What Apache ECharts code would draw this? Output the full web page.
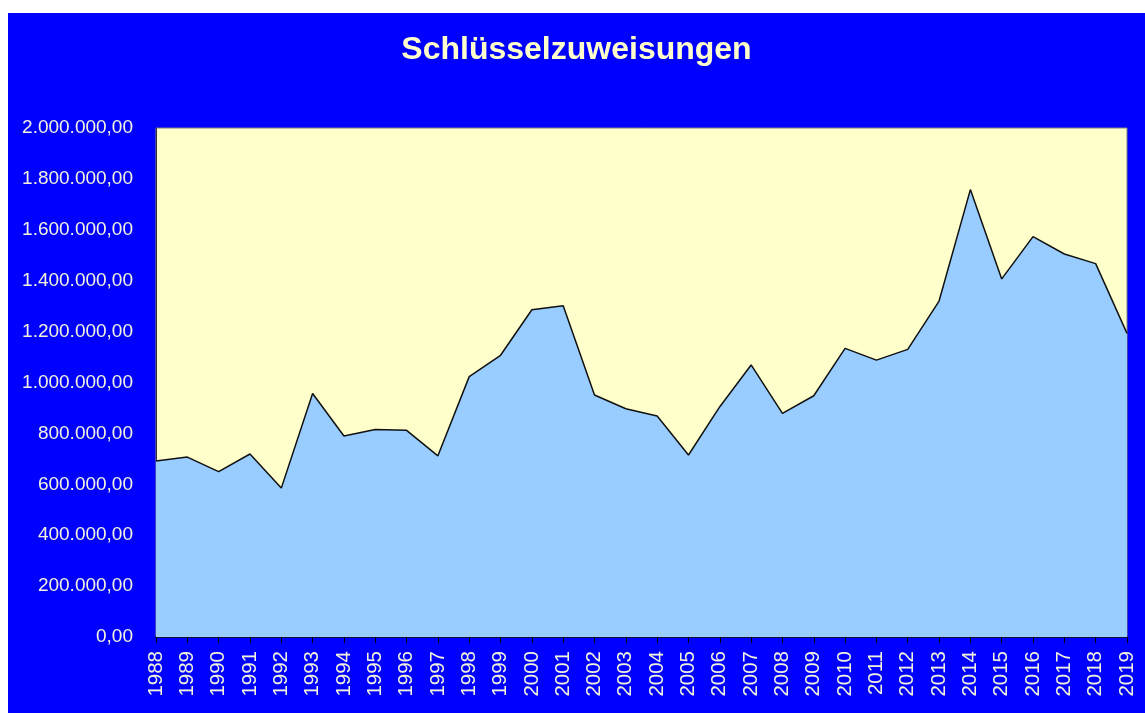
<!DOCTYPE html>
<html>
<head>
<meta charset="utf-8">
<title>Schlüsselzuweisungen</title>
<script src="https://cdn.jsdelivr.net/npm/echarts@6/dist/echarts.min.js"></script>
<style>
	html, body { margin:0; padding:0; background:#fff; }
	#chart { position:absolute; left:8px; top:13px; width:1137px; height:700px; }
</style>
</head>
<body>
<div id="chart"></div>
<script>
var years = ["1988","1989","1990","1991","1992","1993","1994","1995","1996","1997",
	"1998","1999","2000","2001","2002","2003","2004","2005","2006","2007",
	"2008","2009","2010","2011","2012","2013","2014","2015","2016","2017",
	"2018","2019"];
var zuweisungen = [692000, 707000, 650000, 719000, 585000, 957000, 790000, 815000, 812000, 712000,
	1023000, 1107000, 1286000, 1302000, 951000, 897000, 868000, 715000, 905000, 1069000,
	879000, 948000, 1134000, 1088000, 1130000, 1320000, 1758000, 1407000, 1573000, 1505000,
	1467000, 1193000];

// deutsches Zahlenformat 1.234.567,00
function fmt(v){
	var s = Number(v).toFixed(2).split(".");
	return s[0].replace(/\B(?=(\d{3})+(?!\d))/g, ".") + "," + s[1];
}

var chart = echarts.init(document.getElementById("chart"));
chart.setOption({
	backgroundColor: "#0000FF",
	animation: false,
	title:{
		text:"Schlüsselzuweisungen",
		left:"center",
		top:16,
		textStyle:{
			color:"#FFFFCC",
			fontSize: 32,
			fontWeight:"bold",
			fontFamily:"Liberation Sans"
		}
	},
	grid: {
		left: 148,
		right: 18,
		top: 115,
		bottom: 76,
		show: true,
		backgroundColor: "#FFFFCC",
		borderColor: "#808080",
		borderWidth: 1
	},
	xAxis:{
		type: 'category',
		data: years,
		boundaryGap: false,
		splitLine:{show: false},
		axisLine:{ lineStyle:{ color:'#000', width:1.5 } },
		axisTick:{ show:true, length:6, lineStyle:{ color:'#000' } },
		axisLabel:{
			interval:0,
			rotate:90,
			margin:14,
			color:'#F2F2DC',
			fontSize:20.5,
			fontFamily:"Liberation Sans"
		}
	},
	yAxis:{
		type: 'value',
		min: 0,
		max: 2000000,
		interval: 200000,
		splitLine:{show: false},
		axisLine:{ show:true, lineStyle:{ color:'#333' } },
		axisTick:{ show:false },
		axisLabel:{
			margin:23,
			color:'#F2F2DC',
			fontSize:19,
			fontFamily:"Liberation Sans",
			formatter: fmt
		}
	},
	series: [{
		type:"line",
		data: zuweisungen,
		symbol:'none',
		lineStyle:{ color:'#111', width:1.5 },
		areaStyle:{ color:'#99CCFF', opacity:1 }
	}]
});
</script>
</body>
</html>
